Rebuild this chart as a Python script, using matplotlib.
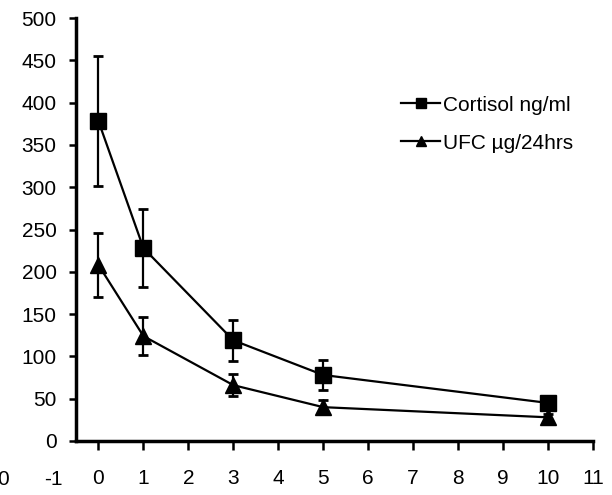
import matplotlib
matplotlib.use("Agg")
import matplotlib.pyplot as plt
from matplotlib.lines import Line2D

# Data
days = [0, 1, 3, 5, 10]
cortisol = [378, 228, 119, 78, 45]
cortisol_err = [77, 46, 24, 18, 6]
ufc = [208, 124, 66, 40, 28]
ufc_err = [38, 22, 13, 8, 4]

series_labels = ["Cortisol ng/ml", "UFC µg/24hrs"]
x_ticks = list(range(0, 12))
y_ticks = list(range(0, 501, 50))
extra_x_labels = [(-1, "-1"), (-2.12, "0")]

plt.rcParams["font.family"] = ["Liberation Sans Narrow", "Liberation Sans", "DejaVu Sans"]

fig = plt.figure(figsize=(6.12, 4.95), dpi=100)
ax = fig.add_axes([76 / 612, 54 / 495, 517 / 612, 423 / 495])

ax.errorbar(days, cortisol, yerr=cortisol_err, color="black", marker="s",
            markersize=11.5, linewidth=1.6, elinewidth=1.6, capsize=3.5,
            capthick=2)
ax.errorbar(days, ufc, yerr=ufc_err, color="black", marker="^",
            markersize=11, linewidth=1.6, elinewidth=1.6, capsize=3.5,
            capthick=2)

ax.set_xlim(-0.5, 11)
ax.set_ylim(0, 500)
ax.set_xticks(x_ticks)
ax.set_yticks(y_ticks)
ax.set_xticklabels([str(t) for t in x_ticks])

for side in ["top", "right"]:
    ax.spines[side].set_visible(False)
for side in ["left", "bottom"]:
    ax.spines[side].set_linewidth(2.5)

ax.tick_params(axis="x", length=6.5, width=1.8, pad=14, labelsize=15)
ax.tick_params(axis="y", length=5, width=1.8, pad=9, labelsize=15)

# labels left of the y axis (part of the cropped original)
for xv, lab in extra_x_labels:
    ax.text(xv, -46, lab, ha="center", va="center", fontsize=15,
            clip_on=False)

handles = [
    Line2D([], [], color="black", marker="s", markersize=7, linewidth=1.6),
    Line2D([], [], color="black", marker="^", markersize=7, linewidth=1.6),
]
ax.legend(handles, series_labels, loc="upper left",
          bbox_to_anchor=(382 / 612, 1 - 77 / 495),
          bbox_transform=fig.transFigure, frameon=False, fontsize=15,
          handlelength=1.9, handletextpad=0.15, labelspacing=0.9)

fig.savefig("out.png", dpi=100)
